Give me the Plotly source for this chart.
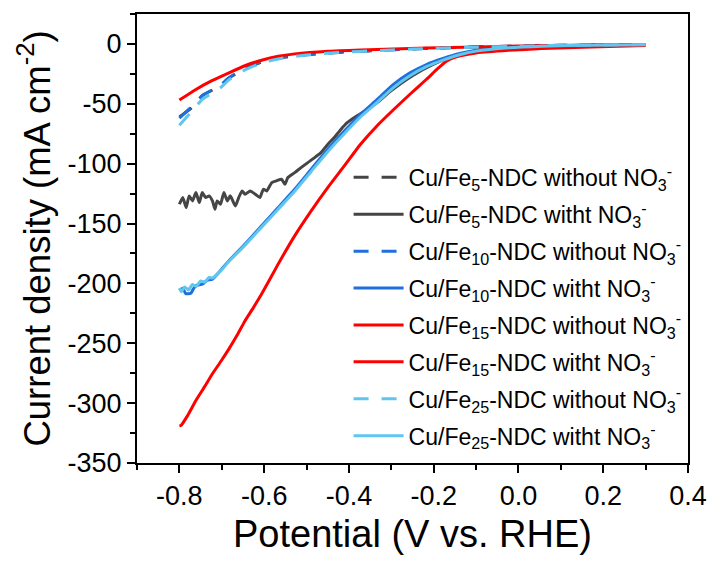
import plotly.graph_objects as go

# ---------------- data ----------------
x_fe5_wo = [-0.80, -0.77, -0.745, -0.706, -0.683, -0.644, -0.60, -0.55, -0.50, -0.45, -0.40, -0.35,
            -0.30, -0.25, -0.20, -0.10, 0.0, 0.10, 0.20, 0.30]
y_fe5_wo = [-61, -53, -43, -35.5, -28.5, -20.5, -14.5, -11.0, -9.0, -7.6, -6.6, -5.7,
            -4.9, -4.2, -3.6, -2.6, -1.8, -1.2, -0.8, -0.5]

x_fe5_w = [-0.800, -0.792, -0.784, -0.777, -0.769, -0.761, -0.753, -0.746, -0.738, -0.730, -0.722,
           -0.716, -0.711, -0.703, -0.695, -0.687, -0.680, -0.668, -0.660, -0.652, -0.645, -0.633,
           -0.621, -0.610, -0.602, -0.594, -0.582, -0.571, -0.559, -0.551, -0.544, -0.528, -0.513,
           -0.497, -0.481, -0.466, -0.450, -0.435, -0.419, -0.404, -0.388, -0.373, -0.357, -0.334,
           -0.30, -0.25, -0.20, -0.15, -0.10, -0.05, 0.0, 0.10, 0.20, 0.30]
y_fe5_w = [-133.9, -128.3, -136.6, -126.9, -131.1, -124.1, -132.5, -124.1, -128.3, -126.9, -131.1,
           -138.0, -131.1, -133.9, -124.1, -131.1, -126.9, -135.3, -128.3, -122.8, -125.5, -122.8,
           -125.5, -128.3, -121.4, -122.8, -115.8, -114.4, -113.0, -117.2, -111.6, -107.5, -103.3,
           -99.1, -95.0, -90.8, -83.9, -78.3, -71.4, -65.8, -61.6, -58.3, -54.7, -49.1,
           -39.0, -26.5, -16.8, -10.0, -6.2, -4.0, -2.9, -1.7, -1.0, -0.6]

x_fe10_wo = x_fe5_wo
y_fe10_wo = [-62, -52, -42.8, -35.3, -28.3, -20.0, -14.2, -10.8, -8.9, -7.5, -6.5, -5.6,
             -4.8, -4.1, -3.5, -2.5, -1.7, -1.1, -0.7, -0.4]

x_fe10_w = [-0.800, -0.792, -0.785, -0.773, -0.767, -0.761, -0.745, -0.735, -0.722, -0.700, -0.683,
            -0.645, -0.606, -0.567, -0.528, -0.489, -0.450, -0.411, -0.373, -0.334, -0.295, -0.256,
            -0.217, -0.178, -0.139, -0.100, -0.023, 0.055, 0.172, 0.30]
y_fe10_w = [-206.1, -204.0, -208.5, -208.3, -204.5, -201.9, -200.5, -197.5, -196.4, -188.0, -181.1,
            -167.2, -151.9, -136.6, -121.4, -104.7, -88.0, -72.8, -58.9, -46.6, -33.9, -24.2,
            -17.2, -12.2, -8.0, -5.3, -2.8, -1.7, -0.8, -0.5]

x_fe15_wo = [-0.80, -0.761, -0.722, -0.683, -0.644, -0.606, -0.567, -0.528, -0.45, -0.372, -0.295,
             -0.217, -0.10, 0.0, 0.10, 0.20, 0.30]
y_fe15_wo = [-46.9, -38.0, -30.5, -24.1, -18.0, -13.6, -10.3, -8.3, -6.1, -5.0, -4.2,
             -3.3, -2.5, -1.8, -1.3, -0.9, -0.5]

x_fe15_w = [-0.800, -0.796, -0.780, -0.761, -0.740, -0.722, -0.700, -0.683, -0.665, -0.645, -0.625,
            -0.606, -0.567, -0.528, -0.489, -0.450, -0.411, -0.373, -0.334, -0.295, -0.256, -0.217,
            -0.190, -0.170, -0.150, -0.131, -0.100, -0.023, 0.055, 0.172, 0.30]
y_fe15_w = [-319.0, -318.6, -310.0, -297.8, -286.0, -275.5, -264.0, -254.7, -244.0, -231.1, -220.0,
            -208.9, -183.9, -160.3, -139.4, -120.0, -101.9, -84.0, -68.5, -55.0, -42.0, -29.5,
            -20.5, -14.5, -11.2, -9.4, -7.5, -5.3, -3.9, -2.5, -1.3]

x_fe25_wo = x_fe5_wo
y_fe25_wo = [-68, -56, -46, -37.5, -30, -21.5, -15.2, -11.5, -9.3, -7.8, -6.7, -5.8,
             -5.0, -4.3, -3.7, -2.7, -1.9, -1.2, -0.8, -0.5]

x_fe25_w = [-0.800, -0.795, -0.788, -0.778, -0.770, -0.760, -0.750, -0.740, -0.730, -0.722, -0.700,
            -0.683, -0.645, -0.606, -0.567, -0.528, -0.489, -0.450, -0.411, -0.373, -0.334, -0.295,
            -0.256, -0.217, -0.178, -0.139, -0.100, -0.023, 0.055, 0.172, 0.30]
y_fe25_w = [-204.0, -207.0, -203.0, -205.5, -201.0, -202.5, -198.0, -199.0, -195.0, -195.5, -188.5,
            -181.5, -168.0, -153.0, -138.0, -123.0, -106.5, -90.0, -75.0, -61.0, -49.0, -36.5,
            -26.5, -19.0, -13.5, -9.0, -6.0, -3.2, -1.9, -1.0, -0.6]

names = [
    "Cu/Fe<sub>5</sub>-NDC without NO<sub>3</sub><sup>-</sup>",
    "Cu/Fe<sub>5</sub>-NDC witht NO<sub>3</sub><sup>-</sup>",
    "Cu/Fe<sub>10</sub>-NDC without NO<sub>3</sub><sup>-</sup>",
    "Cu/Fe<sub>10</sub>-NDC witht NO<sub>3</sub><sup>-</sup>",
    "Cu/Fe<sub>15</sub>-NDC without NO<sub>3</sub><sup>-</sup>",
    "Cu/Fe<sub>15</sub>-NDC witht NO<sub>3</sub><sup>-</sup>",
    "Cu/Fe<sub>25</sub>-NDC without NO<sub>3</sub><sup>-</sup>",
    "Cu/Fe<sub>25</sub>-NDC witht NO<sub>3</sub><sup>-</sup>",
]
xs = [x_fe5_wo, x_fe5_w, x_fe10_wo, x_fe10_w, x_fe15_wo, x_fe15_w, x_fe25_wo, x_fe25_w]
ys = [y_fe5_wo, y_fe5_w, y_fe10_wo, y_fe10_w, y_fe15_wo, y_fe15_w, y_fe25_wo, y_fe25_w]
colors = ["#454545", "#454545", "#1f6fdc", "#1f6fdc", "#ff0000", "#ff0000", "#5ec6ef", "#5ec6ef"]
dashes = ["15px,13px", "solid", "15px,13px", "solid", "solid", "solid", "15px,13px", "solid"]

fig = go.Figure()
for i in range(8):
    fig.add_trace(go.Scatter(
        x=xs[i], y=ys[i], mode="lines", name=names[i],
        line=dict(color=colors[i], width=3, dash=dashes[i], shape="spline", smoothing=0.5),
        legendgroup=str(i),
    ))

font_family = "Liberation Sans, Arial, sans-serif"
axis_common = dict(
    showline=True, linecolor="black", linewidth=2, mirror=True,
    ticks="outside", ticklen=8, tickwidth=2, tickcolor="black",
    showgrid=False, zeroline=False,
    tickfont=dict(family=font_family, size=27, color="black"),
)

fig.update_layout(
    width=719, height=563,
    margin=dict(l=137, r=24, t=12, b=100),
    paper_bgcolor="white", plot_bgcolor="white",
    font=dict(family=font_family, color="black"),
    showlegend=True,
    legend=dict(
        x=0.384, y=0.684, xanchor="left", yanchor="top",
        bgcolor="rgba(0,0,0,0)", borderwidth=0,
        font=dict(family=font_family, size=23, color="black"),
        tracegroupgap=4, itemwidth=50,
    ),
    xaxis=dict(
        range=[-0.9, 0.4], tickvals=[-0.8, -0.6, -0.4, -0.2, 0.0, 0.2, 0.4],
        ticktext=["-0.8", "-0.6", "-0.4", "-0.2", "0.0", "0.2", "0.4"],
        minor=dict(dtick=0.1, tick0=0, ticks="outside", ticklen=5, tickwidth=2, tickcolor="black"),
        title=dict(text="Potential (V vs. RHE)", font=dict(family=font_family, size=38), standoff=10),
        **axis_common,
    ),
    yaxis=dict(
        range=[-350, 25], tickvals=[0, -50, -100, -150, -200, -250, -300, -350],
        ticktext=["0", "-50", "-100", "-150", "-200", "-250", "-300", "-350"],
        minor=dict(dtick=25, tick0=0, ticks="outside", ticklen=5, tickwidth=2, tickcolor="black"),
        title=dict(text="Current density (mA cm<sup>-2</sup>)", font=dict(family=font_family, size=36.5), standoff=6),
        **axis_common,
    ),
)

fig.write_html("out.html")
